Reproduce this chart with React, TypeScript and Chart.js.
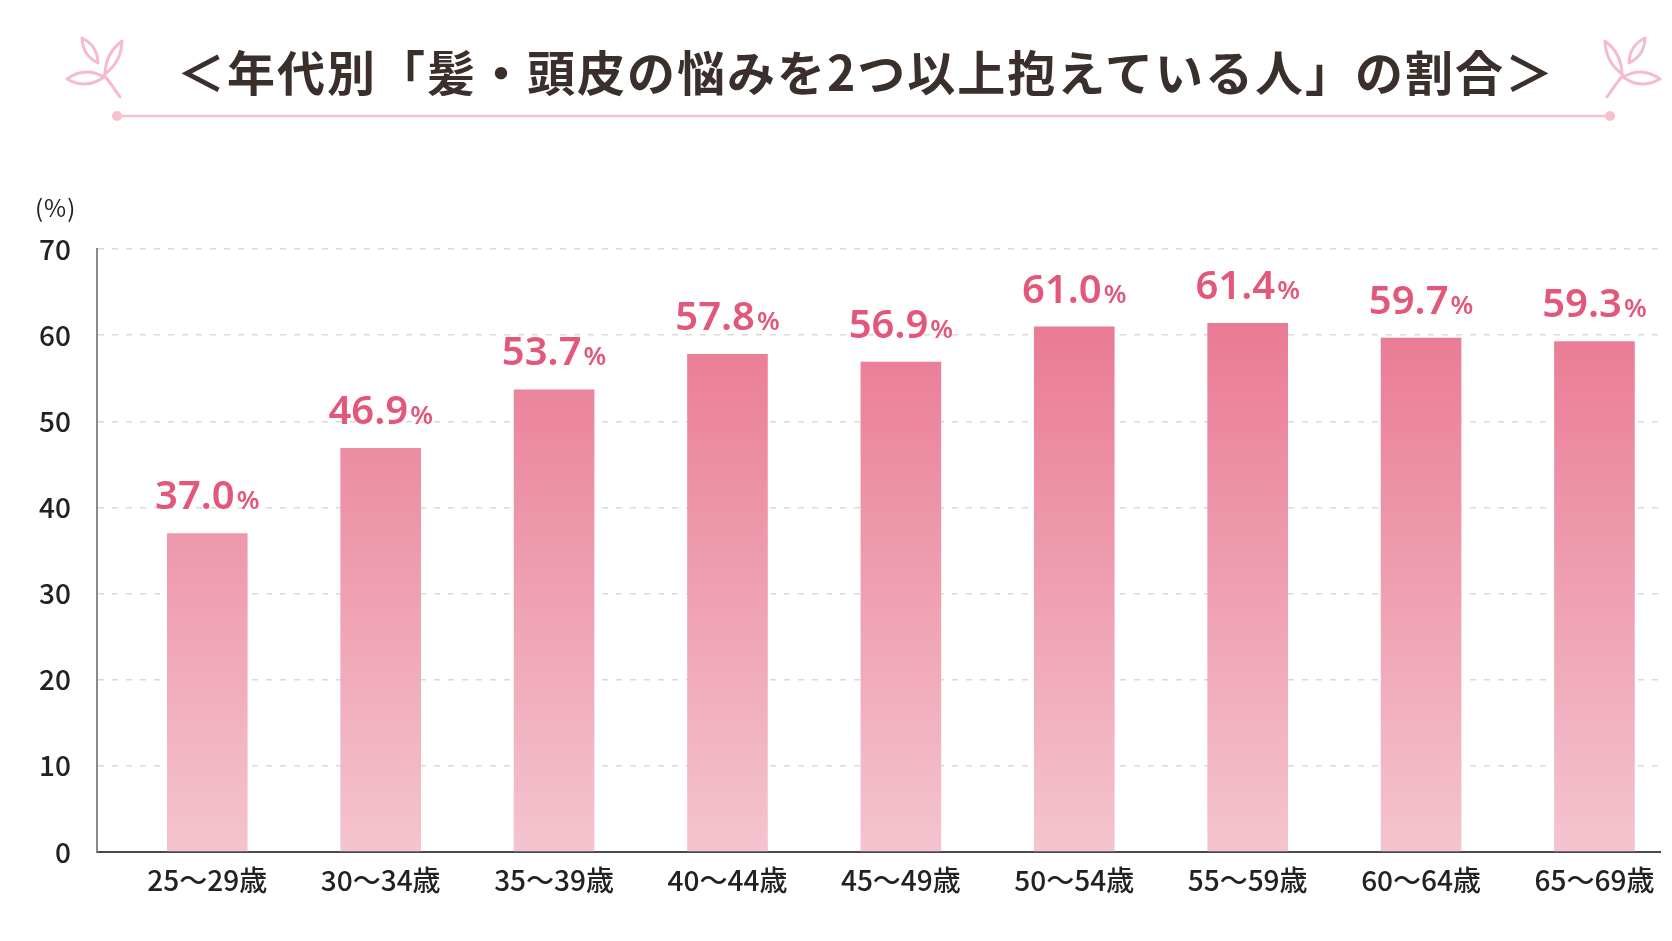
import React, { useEffect, useRef } from 'react';
import { Chart, registerables } from 'chart.js';

Chart.register(...registerables);

// 年代ラベル
const ageGroups = ['25～29歳', '30～34歳', '35～39歳', '40～44歳', '45～49歳', '50～54歳', '55～59歳', '60～64歳', '65～69歳'];
// 髪・頭皮の悩みを2つ以上抱えている人の割合 (%)
const shares = [37.0, 46.9, 53.7, 57.8, 56.9, 61.0, 61.4, 59.7, 59.3];
// 縦軸の目盛り
const yTicks = [0, 10, 20, 30, 40, 50, 60, 70];

const TITLE = '＜年代別「髪・頭皮の悩みを2つ以上抱えている人」の割合＞';
const PINK = '#e3587a';
const JP_FONT = '"Noto Sans CJK JP", "Noto Sans", sans-serif';

// 棒の上に「37.0%」形式のラベルを描く
const valueLabels = {
  id: 'valueLabels',
  afterDatasetsDraw(chart: any) {
    const ctx = chart.ctx;
    const meta = chart.getDatasetMeta(0);
    ctx.save();
    ctx.fillStyle = PINK;
    ctx.textAlign = 'left';
    ctx.textBaseline = 'alphabetic';
    meta.data.forEach((bar: any, i: number) => {
      const num = shares[i].toFixed(1);
      ctx.font = '600 40px "Noto Sans"';
      const wNum = ctx.measureText(num).width;
      ctx.font = '600 26px "Noto Sans"';
      const wPct = ctx.measureText('%').width;
      const left = bar.x - (wNum + wPct + 2) / 2;
      const y = bar.y - 24;
      ctx.font = '600 40px "Noto Sans"';
      ctx.fillText(num, left, y);
      ctx.font = '600 26px "Noto Sans"';
      ctx.fillText('%', left + wNum + 2, y);
    });
    ctx.restore();
  },
};

function leafPath(bx: number, by: number, tx: number, ty: number, w: number) {
  const mx = (bx + tx) / 2;
  const my = (by + ty) / 2;
  const dx = tx - bx;
  const dy = ty - by;
  const len = Math.hypot(dx, dy);
  const nx = (-dy / len) * w;
  const ny = (dx / len) * w;
  return `M${bx},${by} Q${mx + nx},${my + ny} ${tx},${ty} Q${mx - nx},${my - ny} ${bx},${by} Z`;
}

function Sprig({ flip }: { flip?: boolean }) {
  return (
    <svg width="62" height="66" viewBox="0 0 62 66" style={{ transform: flip ? 'scaleX(-1)' : undefined }}>
      <g fill="none" stroke="#f5bccb" strokeWidth="3" strokeLinecap="round" strokeLinejoin="round">
        <path d="M56,62 Q48,50 40,40" />
        <path d={leafPath(40, 42, 3, 44, 12)} />
        <path d={leafPath(34, 28, 18, 3, 9)} />
        <path d={leafPath(41, 39, 58, 6, 9)} />
      </g>
    </svg>
  );
}

export default function App() {
  const chartRef = useRef<HTMLCanvasElement>(null);
  const chartInstance = useRef<Chart | null>(null);

  useEffect(() => {
    if (!chartRef.current) return;
    if (chartInstance.current) chartInstance.current.destroy();
    const ctx = chartRef.current.getContext('2d');
    if (!ctx) return;

    chartInstance.current = new Chart(ctx, {
      type: 'bar',
      data: {
        datasets: [
          {
            label: '割合',
            data: shares.map((v, i) => ({ x: i, y: v })),
            backgroundColor: (c: any) => {
              const { ctx: cx, chartArea } = c.chart;
              if (!chartArea) return '#ec8ea3';
              const g = cx.createLinearGradient(0, chartArea.top, 0, chartArea.bottom);
              g.addColorStop(0, '#e8708c');
              g.addColorStop(1, '#f4c4cf');
              return g;
            },
            borderWidth: 0,
            categoryPercentage: 1,
            barPercentage: 0.465,
          },
        ],
      },
      plugins: [valueLabels],
      options: {
        responsive: false,
        animation: false,
        layout: { padding: { top: 249, right: 12, bottom: 0, left: 0 } },
        plugins: {
          legend: { display: false },
          tooltip: { enabled: false },
        },
        scales: {
          x: {
            type: 'linear',
            min: -0.636,
            max: 8.378,
            offset: false,
            bounds: 'data',
            grid: { display: false, drawTicks: false },
            border: { display: true, color: '#4a4a4a', width: 2 },
            afterBuildTicks: (scale: any) => {
              scale.ticks = ageGroups.map((_, i) => ({ value: i }));
            },
            ticks: {
              autoSkip: false,
              maxRotation: 0,
              padding: 12,
              color: '#222',
              font: { family: JP_FONT, size: 28, weight: 500 },
              callback: (v: any) => ageGroups[v] ?? '',
            },
            afterFit: (scale: any) => {
              scale.height = 89;
              scale.paddingLeft = 0;
              scale.paddingRight = 0;
            },
          },
          y: {
            min: yTicks[0],
            max: yTicks[yTicks.length - 1],
            grid: { color: '#d9d9d9', lineWidth: 1.5, drawTicks: false },
            border: { display: true, color: '#8a8a8a', width: 2, dash: [6, 8] },
            ticks: {
              stepSize: yTicks[1] - yTicks[0],
              padding: 26,
              color: '#222',
              font: { family: JP_FONT, size: 28, weight: 500 },
            },
            afterFit: (scale: any) => {
              scale.width = 97;
              scale.paddingTop = 0;
              scale.paddingBottom = 0;
            },
          },
        },
      },
    } as any);

    return () => {
      if (chartInstance.current) {
        chartInstance.current.destroy();
        chartInstance.current = null;
      }
    };
  }, []);

  return (
    <div style={{ position: 'relative', width: 1672, height: 941, background: '#fff', overflow: 'hidden' }}>
      <style>{'body{margin:0;background:#fff}'}</style>
      <canvas ref={chartRef} width={1672} height={941} style={{ position: 'absolute', left: 0, top: 0 }} />
      <div style={{ position: 'absolute', left: 64, top: 35 }}>
        <Sprig />
      </div>
      <div style={{ position: 'absolute', left: 1601, top: 35 }}>
        <Sprig flip />
      </div>
      <div
        style={{
          position: 'absolute',
          left: 177,
          top: 46,
          fontFamily: JP_FONT,
          fontSize: 48,
          lineHeight: '48px',
          fontWeight: 700,
          color: '#3b2f2b',
          whiteSpace: 'nowrap',
          letterSpacing: 2,
        }}
      >
        {TITLE}
      </div>
      <svg width="1672" height="130" style={{ position: 'absolute', left: 0, top: 0 }}>
        <line x1="117" y1="116" x2="1610" y2="116" stroke="#f6c0cd" strokeWidth="2.5" />
        <circle cx="117" cy="116" r="5" fill="#f6c0cd" />
        <circle cx="1610" cy="116" r="5" fill="#f6c0cd" />
      </svg>
      <div
        style={{
          position: 'absolute',
          left: 35,
          top: 192,
          fontFamily: JP_FONT,
          fontSize: 24,
          lineHeight: '30px',
          color: '#222',
          letterSpacing: 1,
        }}
      >
        (%)
      </div>
    </div>
  );
}
